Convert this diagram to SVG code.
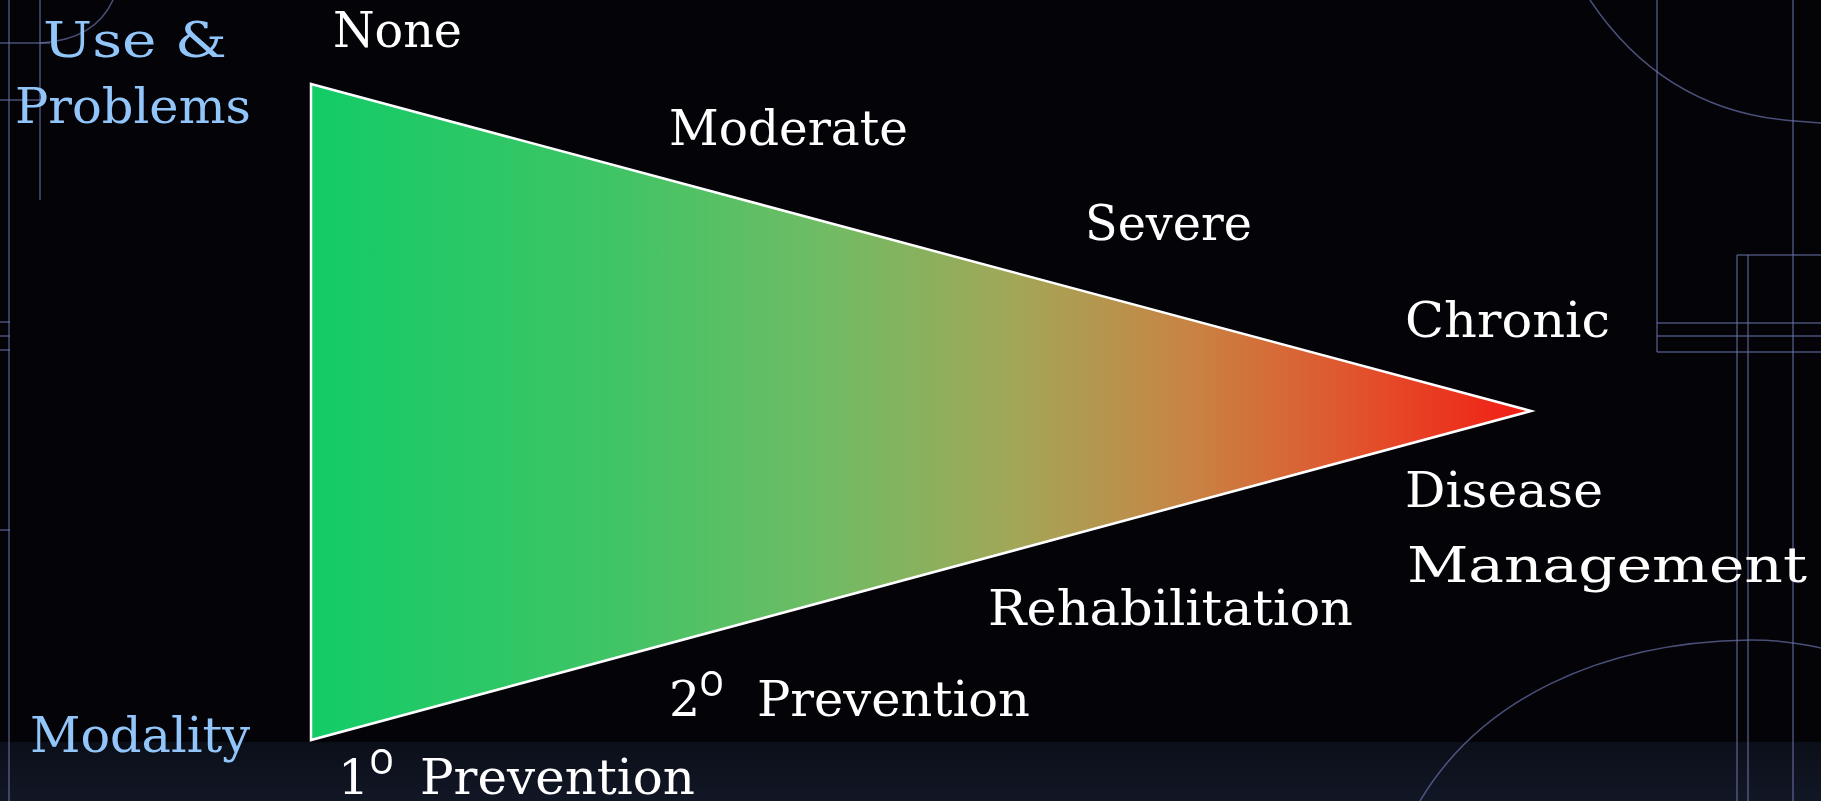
<svg xmlns="http://www.w3.org/2000/svg" width="1821" height="801" viewBox="0 0 1821 801">
  <defs>
    <linearGradient id="tri" x1="311" y1="0" x2="1530" y2="0" gradientUnits="userSpaceOnUse">
      <stop offset="0" stop-color="#12cc66"/>
      <stop offset="0.25" stop-color="#40c466"/>
      <stop offset="0.42" stop-color="#6fbc64"/>
      <stop offset="0.58" stop-color="#a3a657"/>
      <stop offset="0.72" stop-color="#c88444"/>
      <stop offset="0.86" stop-color="#e2522c"/>
      <stop offset="1" stop-color="#f21d14"/>
    </linearGradient>
    <linearGradient id="band" x1="0" y1="742" x2="0" y2="801" gradientUnits="userSpaceOnUse">
      <stop offset="0" stop-color="#0b0f19"/>
      <stop offset="1" stop-color="#121726"/>
    </linearGradient>
    <style>
      .bgl { fill: none; stroke: #6a70a8; stroke-width: 1.5; opacity: 0.7; }
      .w { fill: #ffffff; font-family: "DejaVu Serif", "Liberation Serif", serif; font-size: 49px; }
      .b { fill: #92c6fb; font-family: "DejaVu Serif", "Liberation Serif", serif; font-size: 49px; }
      .ord { font-family: Roboto, "Noto Sans", "DejaVu Sans", sans-serif; font-size: 64px; font-weight: 300; }
    </style>
  </defs>

  <rect x="0" y="0" width="1821" height="801" fill="#030308"/>
  <rect x="0" y="742" width="1821" height="59" fill="url(#band)"/>

  <g id="background-lines">
    <line class="bgl" x1="9" y1="0" x2="9" y2="801"/>
    <line class="bgl" x1="40" y1="0" x2="40" y2="200" opacity="0.35"/>
    <line class="bgl" x1="0" y1="43" x2="50" y2="43"/>
    <line class="bgl" x1="0" y1="100" x2="45" y2="100" opacity="0.45"/>
    <path class="bgl" d="M113 0 Q95 40 40 43"/>
    <line class="bgl" x1="0" y1="322" x2="10" y2="322"/>
    <line class="bgl" x1="0" y1="336" x2="10" y2="336"/>
    <line class="bgl" x1="0" y1="350" x2="10" y2="350"/>
    <line class="bgl" x1="0" y1="530" x2="10" y2="530"/>

    <path class="bgl" d="M1590 0 Q1665 112 1795 121 L1821 123"/>
    <line class="bgl" x1="1657" y1="0" x2="1657" y2="352"/>
    <line class="bgl" x1="1793" y1="0" x2="1793" y2="801"/>
    <line class="bgl" x1="1737" y1="255" x2="1821" y2="255"/>
    <line class="bgl" x1="1737" y1="255" x2="1737" y2="801"/>
    <line class="bgl" x1="1748" y1="255" x2="1748" y2="801"/>
    <line class="bgl" x1="1657" y1="323" x2="1821" y2="323"/>
    <line class="bgl" x1="1657" y1="336" x2="1821" y2="336"/>
    <line class="bgl" x1="1657" y1="352" x2="1821" y2="352"/>
    <path class="bgl" d="M1420 801 C1480 700 1600 642 1750 640 C1780 640 1800 643 1821 648"/>
  </g>

  <g id="triangle">
    <polygon points="311,84 1531,411 311,740" fill="url(#tri)" stroke="#ffffff" stroke-width="2.5" stroke-linejoin="miter"/>
  </g>

  <g id="axis-use-problems">
    <text class="b" x="43" y="57" font-size="58" textLength="184" lengthAdjust="spacingAndGlyphs">Use &amp;</text>
    <text class="b" x="15" y="123" textLength="236" lengthAdjust="spacingAndGlyphs">Problems</text>
  </g>
  <g id="axis-modality">
    <text class="b" x="30" y="752" textLength="220" lengthAdjust="spacingAndGlyphs">Modality</text>
  </g>

  <g id="label-none">
    <text class="w" x="333" y="47" textLength="129" lengthAdjust="spacingAndGlyphs">None</text>
  </g>
  <g id="label-moderate">
    <text class="w" x="669" y="145" textLength="239" lengthAdjust="spacingAndGlyphs">Moderate</text>
  </g>
  <g id="label-severe">
    <text class="w" x="1085" y="240" textLength="167" lengthAdjust="spacingAndGlyphs">Severe</text>
  </g>
  <g id="label-chronic">
    <text class="w" x="1405" y="337" textLength="205" lengthAdjust="spacingAndGlyphs">Chronic</text>
  </g>

  <g id="label-primary-prevention">
    <text class="w" x="338" y="794" font-size="63">1<tspan class="ord" dx="-2">º</tspan></text>
    <text class="w" x="420" y="794" textLength="275" lengthAdjust="spacingAndGlyphs">Prevention</text>
  </g>
  <g id="label-secondary-prevention">
    <text class="w" x="669" y="716" font-size="63">2<tspan class="ord" dx="-3">º</tspan></text>
    <text class="w" x="757" y="716" textLength="273" lengthAdjust="spacingAndGlyphs">Prevention</text>
  </g>
  <g id="label-rehabilitation">
    <text class="w" x="988" y="625" textLength="365" lengthAdjust="spacingAndGlyphs">Rehabilitation</text>
  </g>
  <g id="label-disease-management">
    <text class="w" x="1405" y="507" textLength="198" lengthAdjust="spacingAndGlyphs">Disease</text>
    <text class="w" x="1407" y="582" font-size="58" textLength="400" lengthAdjust="spacingAndGlyphs">Management</text>
  </g>
</svg>
